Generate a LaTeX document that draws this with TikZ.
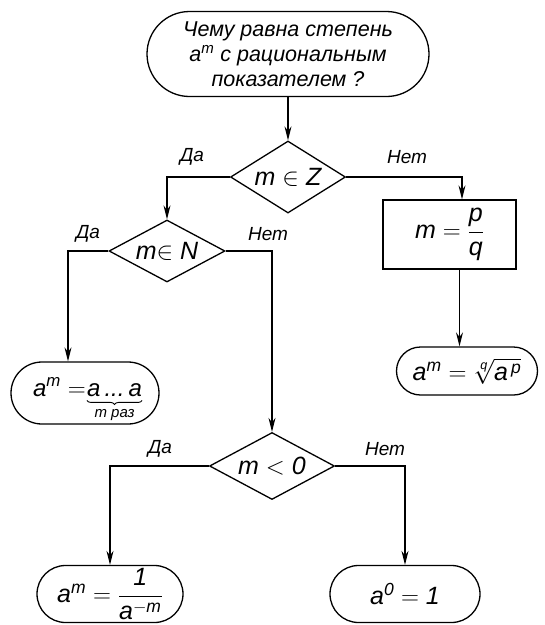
\documentclass[tikz,border=0pt]{standalone}
\usepackage{amsmath}
\usepackage{fontspec}
\setmainfont{Liberation Sans}
\usetikzlibrary{shapes.geometric,shapes.misc,arrows.meta,calc,decorations.pathreplacing}
\newcommand\tx[1]{\text{\itshape #1}}
\begin{document}
\begin{tikzpicture}[x=1pt,y=-1pt,
  every node/.style={font=\itshape},
  term/.style={draw,rounded rectangle,line width=1.3pt,inner sep=2pt},
  dec/.style={draw,diamond,shape aspect=1.6,inner sep=0pt,line width=1.3pt},
  proc/.style={draw,rectangle,line width=1.3pt},
  arr/.style={line width=1.2pt,-{Stealth[length=14pt,width=7pt]}},
  lab/.style={font=\fontsize{19}{21}\selectfont\itshape},
  big/.style={font=\fontsize{25}{28}\selectfont\itshape}]
\useasboundingbox (0,0) rectangle (545,625);
% nodes
\node[term,minimum width=286pt,minimum height=85pt,align=center,
  font=\fontsize{21.5}{25}\selectfont\itshape] (top) at (288,54)
  {Чему равна степень\\$\tx{a}^{\tx{m}}$ с рациональным\\показателем ?};
\node[dec,big,minimum width=115pt,minimum height=72pt] (d1) at (288,177) {m $\in$ Z};
\node[dec,big,minimum width=116pt,minimum height=62pt] (d2) at (167,251) {m$\in$ N};
\node[dec,big,minimum width=125pt,minimum height=67pt] (d3) at (272,466) {m $<$ 0};
\node[proc,big,minimum width=133pt,minimum height=69pt] (rect) at (449.5,234.5)
  {$\tx{m}=\dfrac{\tx{p}}{\tx{q}}$};
\node[term,big,minimum width=145pt,minimum height=48pt] (t2) at (467,371)
  {$\tx{a}^{\tx{m}}=\sqrt[\tx{q}]{\tx{a}^{\,\tx{p}}}$};
% a^m = a...a (m raz)
\node[term,minimum width=152pt,minimum height=62pt] (t1) at (85,393) {};
\node[font=\fontsize{24}{26}\selectfont\itshape,inner sep=0pt,anchor=base east] (fa) at (86,396)
  {$\tx{a}^{\tx{m}}=$};
\node[font=\fontsize{24}{26}\selectfont\itshape,inner sep=0pt,anchor=base west] (fb) at (87,396)
  {a\,...\,a};
\draw[line width=0.9pt,decorate,decoration={brace,mirror,amplitude=4pt}]
  ([yshift=-4pt]fb.south west) -- ([yshift=-4pt]fb.south east);
\node[font=\fontsize{15}{16}\selectfont\itshape,inner sep=0pt,anchor=north] (fc) at ([yshift=-13pt]fb.south) {m раз};
\node[term,big,minimum width=150pt,minimum height=57pt] (t3) at (110,594)
  {$\tx{a}^{\tx{m}}=\dfrac{\tx{1}}{\tx{a}^{-\tx{m}}}$};
\node[term,big,minimum width=154pt,minimum height=57pt] (t4) at (405,594)
  {$\tx{a}^{\tx{0}}=\tx{1}$};
% labels
\node[lab] (l1) at (192,157) {Да};
\node[lab] (l2) at (407,157) {Нет};
\node[lab] (l3) at (88,234) {Да};
\node[lab] (l4) at (268,234) {Нет};
\node[lab] (l5) at (160,449) {Да};
\node[lab] (l6) at (385,449) {Нет};
% connectors
\draw[arr] (top.south) -- (d1.north);
\draw[arr] (d1.west) -| (d2.north);
\draw[arr] (d1.east) -| ([xshift=12.5pt]rect.north);
\draw[arr] ([xshift=10pt]rect.south) -- ([xshift=10pt]rect.south |- t2.north);
\draw[arr] (d2.west) -| ([xshift=-17pt]t1.north);
\draw[arr] (d2.east) -| (d3.north);
\draw[arr] (d3.west) -| (t3.north);
\draw[arr] (d3.east) -| (t4.north);
\end{tikzpicture}
\end{document}
